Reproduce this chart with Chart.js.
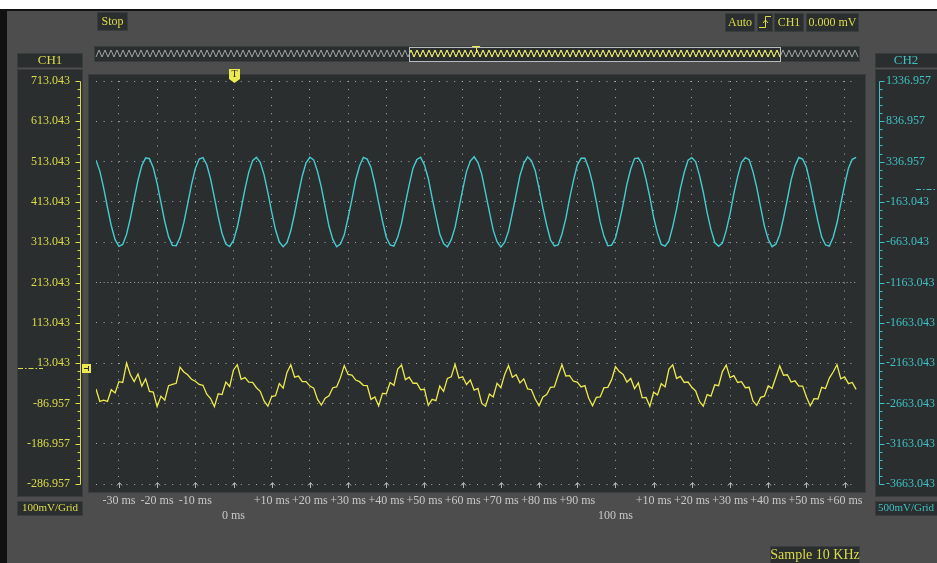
<!DOCTYPE html>
<html>
<head>
<meta charset="utf-8">
<script src="https://cdn.jsdelivr.net/npm/chart.js@4.4.1/dist/chart.umd.min.js"></script>
<style>
  html, body { margin: 0; padding: 0; background: #4d4d4d; }
  canvas { display: block; }
</style>
</head>
<body>
<canvas id="scope" width="937" height="563"></canvas>
<script>
// ---- captured buffer (10 kHz acquisition, shown decimated to 1 ms) ----
const sampleTimesMs = [
  -36,-35,-34,-33,-32,-31,-30,-29,-28,-27,-26,-25,-24,-23,-22,-21,-20,-19,-18,-17,
  -16,-15,-14,-13,-12,-11,-10,-9,-8,-7,-6,-5,-4,-3,-2,-1,0,1,2,3,
  4,5,6,7,8,9,10,11,12,13,14,15,16,17,18,19,20,21,22,23,
  24,25,26,27,28,29,30,31,32,33,34,35,36,37,38,39,40,41,42,43,
  44,45,46,47,48,49,50,51,52,53,54,55,56,57,58,59,60,61,62,63,
  64,65,66,67,68,69,70,71,72,73,74,75,76,77,78,79,80,81,82,83,
  84,85,86,87,88,89,90,91,92,93,94,95,96,97,98,99,100,101,102,103,
  104,105,106,107,108,109,110,111,112,113,114,115,116,117,118,119,120,121,122,123,
  124,125,126,127,128,129,130,131,132,133,134,135,136,137,138,139,140,141,142,143,
  144,145,146,147,148,149,150,151,152,153,154,155,156,157,158,159,160,161,162,163
];

// CH1 (yellow), mV
const ch1TraceMv = [
  -51,-82,-79,-82,-53,-61,-33,-35,13,-16,
  -33,-14,-44,-26,-57,-59,-95,-69,-79,-43,
  -40,-37,3,-9,-16,-27,-32,-40,-42,-64,
  -75,-95,-63,-65,-34,-45,-4,9,-27,-23,
  -34,-35,-48,-57,-81,-94,-70,-68,-38,-49,
  -10,9,-22,-19,-33,-33,-44,-49,-77,-91,
  -74,-68,-48,-46,-23,7,-15,-17,-29,-33,
  -42,-43,-77,-71,-93,-62,-63,-35,-42,-2,
  8,-28,-22,-37,-37,-53,-52,-92,-77,-80,
  -44,-57,-25,-21,10,-24,-21,-40,-29,-54,
  -50,-87,-94,-64,-71,-37,-48,-15,7,-22,
  -16,-36,-26,-51,-53,-76,-93,-71,-65,-47,
  -46,-17,9,-19,-18,-32,-34,-46,-43,-74,
  -93,-72,-71,-48,-47,-28,4,-8,-15,-34,
  -25,-50,-36,-73,-72,-94,-59,-66,-38,-46,
  -2,9,-25,-20,-35,-34,-47,-56,-82,-94,
  -65,-69,-41,-43,-8,8,-23,-18,-35,-33,
  -48,-47,-81,-92,-72,-69,-43,-50,-22,6,
  -17,-16,-34,-31,-44,-44,-71,-93,-75,-76,
  -47,-50,-24,-9,9,-26,-21,-38,-35,-52
];

// CH2 (cyan), mV
const ch2TraceMv = [
  354,219,11,-231,-459,-631,-714,-691,-566,-366,
  -126,107,288,383,373,261,68,-170,-406,-596,
  -702,-706,-606,-421,-187,52,250,369,386,298,
  122,-109,-349,-555,-685,-716,-640,-474,-248,-5,
  207,348,391,329,173,-48,-291,-509,-661,-718,
  -669,-522,-307,-65,159,321,391,
  358,214,18,-225,-466,-628,-720,-686,-571,-360,
  -131,112,283,389,368,265,62,-176,-400,-601,
  -697,-712,-600,-426,-181,47,256,364,392,293,
  128,-114,-343,-561,-680,-722,-634,-479,-242,-10,
  213,343,397,324,179,-53,-286,-514,-656,-724,
  -663,-527,-301,-70,165,316,396,
  349,224,6,-236,-453,-636,-709,-697,-561,-371,
  -120,102,294,378,379,256,74,-165,-411,-590,
  -708,-700,-611,-416,-193,58,245,375,381,304,
  116,-104,-355,-549,-691,-711,-646,-469,-253,1,
  201,354,386,335,167,-43,-297,-504,-667,-713,
  -675,-517,-312,-59,153,327,386,
  360,213,15,-227,-463,-626,-718,-688,-570,-362,
  -130,111,284,388,369,266,64,-174,-402,-600,
  -698,-711,-602,-425,-183,48,255,365,390
];

// ---- axes ----
const viewStartMs = -36;
const viewEndMs = 163.5;
const timeTicksMs = [-30,-20,-10,0,10,20,30,40,50,60,70,80,90,100,110,120,130,140,150,160];
const timeTickLabels = [
  '-30 ms','-20 ms','-10 ms',['', '0 ms'],'+10 ms','+20 ms','+30 ms','+40 ms','+50 ms','+60 ms',
  '+70 ms','+80 ms','+90 ms',['', '100 ms'],'+10 ms','+20 ms','+30 ms','+40 ms','+50 ms','+60 ms'
];
const ch1TickMv = [-286.957,-186.957,-86.957,13.043,113.043,213.043,313.043,413.043,513.043,613.043,713.043];
const ch2TickMv = [-3663.043,-3163.043,-2663.043,-2163.043,-1663.043,-1163.043,-663.043,-163.043,336.957,836.957,1336.957];
const triggerTimeMs = 0;
const ch1GroundMv = 0;
const ch2GroundMv = 0;

// ---- look ----
const FONT = "'Liberation Serif','Times New Roman',serif";
const PAGE_BG = '#4d4d4d';
const PANEL = '#2b2e2f';
const PANEL_EDGE = '#3a3d3e';
const YELLOW = '#ecea4e';
const YELLOW_TEXT = '#dcdc48';
const CYAN = '#44cdd0';
const CYAN_TEXT = '#3fc0c4';
const GRID = 'rgba(190,192,192,0.85)';
const TICK_TEXT = '#c8c8c8';

Chart.defaults.font.family = FONT;
Chart.defaults.font.size = 12;

function panel(ctx, x, y, w, h) {
  ctx.fillStyle = PANEL;
  ctx.fillRect(x, y, w, h);
  ctx.strokeStyle = PANEL_EDGE;
  ctx.lineWidth = 1;
  ctx.strokeRect(x + 0.5, y + 0.5, w - 1, h - 1);
}

function text(ctx, str, cx, cy, color, size, align) {
  ctx.fillStyle = color;
  ctx.font = size + 'px ' + FONT;
  ctx.textAlign = align || 'center';
  ctx.textBaseline = 'middle';
  ctx.fillText(str, cx, cy);
}

function zigzag(ctx, x0, x1, yTop, yBot, halfPeriod, color) {
  ctx.beginPath();
  let k = 0;
  for (let px = x0; px <= x1; px += halfPeriod, k++) {
    const py = (k % 2) ? yTop : yBot;
    if (k === 0) ctx.moveTo(px, py); else ctx.lineTo(px, py);
  }
  ctx.strokeStyle = color;
  ctx.lineWidth = 1;
  ctx.stroke();
}

function dashDot(ctx, x0, x1, y, color) {
  ctx.save();
  ctx.strokeStyle = color;
  ctx.lineWidth = 1;
  ctx.setLineDash([5, 2, 1.5, 2]);
  ctx.beginPath();
  ctx.moveTo(x0, Math.round(y) + 0.5);
  ctx.lineTo(x1, Math.round(y) + 0.5);
  ctx.stroke();
  ctx.restore();
}

// frame, panels and status boxes behind the plot; axis rulers and markers on top
const scopeFrame = {
  id: 'scopeFrame',
  beforeDraw(chart) {
    const ctx = chart.ctx;
    const a = chart.chartArea;
    const W = chart.width, H = chart.height;
    ctx.save();
    ctx.fillStyle = PAGE_BG;
    ctx.fillRect(0, 0, W, H);
    ctx.fillStyle = '#ffffff';
    ctx.fillRect(0, 0, W, 9);
    ctx.fillStyle = '#111111';
    ctx.fillRect(0, 9, W, 2);
    ctx.fillRect(0, 9, 7, H - 9);

    // status row
    panel(ctx, 97, 12, 31, 19);
    text(ctx, 'Stop', 112.5, 22, YELLOW_TEXT, 12);
    panel(ctx, 725, 13, 30, 19);
    text(ctx, 'Auto', 740, 23, YELLOW_TEXT, 12);
    panel(ctx, 757, 13, 16, 19);
    ctx.strokeStyle = YELLOW_TEXT;
    ctx.lineWidth = 1;
    ctx.beginPath();
    ctx.moveTo(759, 27.5); ctx.lineTo(765.5, 27.5); ctx.lineTo(765.5, 16.5); ctx.lineTo(771, 16.5);
    ctx.moveTo(763, 23); ctx.lineTo(765.5, 20); ctx.lineTo(768, 23);
    ctx.stroke();
    panel(ctx, 774, 13, 30, 19);
    text(ctx, 'CH1', 789, 23, YELLOW_TEXT, 12);
    panel(ctx, 806, 13, 53, 19);
    text(ctx, '0.000 mV', 832.5, 23, YELLOW_TEXT, 12);

    // buffer overview strip with the visible window
    const ovL = 94, ovR = 860, winL = 409, winR = 781;
    panel(ctx, ovL, 46, ovR - ovL, 16);
    zigzag(ctx, 96, 858, 50, 57, 3, '#9fa6a6');
    ctx.save();
    ctx.beginPath();
    ctx.rect(winL, 46, winR - winL, 16);
    ctx.clip();
    zigzag(ctx, 96, 858, 50, 57, 3, YELLOW);
    ctx.restore();
    ctx.strokeStyle = '#b9bcbc';
    ctx.strokeRect(winL + 0.5, 47.5, winR - winL - 1, 14);
    const trigOv = winL + (triggerTimeMs - viewStartMs) / (viewEndMs - viewStartMs) * (winR - winL);
    ctx.strokeStyle = YELLOW;
    ctx.beginPath();
    ctx.moveTo(trigOv - 4, 46.5); ctx.lineTo(trigOv + 4, 46.5);
    ctx.moveTo(Math.round(trigOv) + 0.5, 46); ctx.lineTo(Math.round(trigOv) + 0.5, 53);
    ctx.stroke();

    // channel side panels
    panel(ctx, 17, 53, 66, 15);
    text(ctx, 'CH1', 50, 61, YELLOW_TEXT, 13);
    panel(ctx, 17, 69, 66, 428);
    panel(ctx, 17, 501, 66, 15);
    text(ctx, '100mV/Grid', 50, 508.5, YELLOW_TEXT, 11);

    panel(ctx, 875, 53, 63, 15);
    text(ctx, 'CH2', 906, 61, CYAN_TEXT, 13);
    panel(ctx, 875, 69, 63, 428);
    panel(ctx, 875, 501, 63, 15);
    text(ctx, '500mV/Grid', 906, 508.5, CYAN_TEXT, 11);

    // screen
    panel(ctx, a.left - 8, a.top - 7, a.right - a.left + 16, a.bottom - a.top + 16);

    // acquisition info
    panel(ctx, 770, 546, 90, 18);
    text(ctx, 'Sample 10 KHz', 815, 555.5, YELLOW_TEXT, 14);
    ctx.restore();
  },
  afterDraw(chart) {
    const ctx = chart.ctx;
    const a = chart.chartArea;
    const xs = chart.scales.x, ys = chart.scales.y, ys2 = chart.scales.y2;
    ctx.save();

    // little arrows under the time ticks
    ctx.strokeStyle = '#b4b6b6';
    ctx.lineWidth = 1;
    ctx.beginPath();
    timeTicksMs.forEach(t => {
      const px = Math.round(xs.getPixelForValue(t)) + 0.5;
      ctx.moveTo(px, a.bottom - 1); ctx.lineTo(px, a.bottom + 4);
      ctx.moveTo(px - 2.5, a.bottom + 1.5); ctx.lineTo(px, a.bottom - 1.5); ctx.lineTo(px + 2.5, a.bottom + 1.5);
    });
    ctx.stroke();

    // CH1 ruler (left)
    const rulerL = 80.5;
    ctx.strokeStyle = YELLOW_TEXT;
    ctx.beginPath();
    ctx.moveTo(rulerL, Math.round(ys.getPixelForValue(ch1TickMv[0])) + 0.5);
    ctx.lineTo(rulerL, Math.round(ys.getPixelForValue(ch1TickMv[ch1TickMv.length - 1])) + 0.5);
    ch1TickMv.forEach((v, i) => {
      const py = Math.round(ys.getPixelForValue(v)) + 0.5;
      ctx.moveTo(rulerL - 5, py); ctx.lineTo(rulerL, py);
      if (i < ch1TickMv.length - 1) {
        const step = (ch1TickMv[i + 1] - v) / 5;
        for (let k = 1; k < 5; k++) {
          const my = Math.round(ys.getPixelForValue(v + step * k)) + 0.5;
          ctx.moveTo(rulerL - 3, my); ctx.lineTo(rulerL, my);
        }
      }
    });
    ctx.stroke();

    // CH2 ruler (right)
    const rulerR = 879.5;
    ctx.strokeStyle = CYAN_TEXT;
    ctx.beginPath();
    ctx.moveTo(rulerR, Math.round(ys2.getPixelForValue(ch2TickMv[0])) + 0.5);
    ctx.lineTo(rulerR, Math.round(ys2.getPixelForValue(ch2TickMv[ch2TickMv.length - 1])) + 0.5);
    ch2TickMv.forEach((v, i) => {
      const py = Math.round(ys2.getPixelForValue(v)) + 0.5;
      ctx.moveTo(rulerR, py); ctx.lineTo(rulerR + 5, py);
      if (i < ch2TickMv.length - 1) {
        const step = (ch2TickMv[i + 1] - v) / 5;
        for (let k = 1; k < 5; k++) {
          const my = Math.round(ys2.getPixelForValue(v + step * k)) + 0.5;
          ctx.moveTo(rulerR, my); ctx.lineTo(rulerR + 3, my);
        }
      }
    });
    ctx.stroke();

    // ground level markers
    const g1 = ys.getPixelForValue(ch1GroundMv);
    dashDot(ctx, 18, 43, g1, YELLOW_TEXT);
    ctx.fillStyle = YELLOW;
    ctx.fillRect(82, Math.round(g1) - 4, 9, 9);
    ctx.strokeStyle = '#2b2e2f';
    ctx.beginPath();
    ctx.moveTo(84, Math.round(g1) + 0.5); ctx.lineTo(89, Math.round(g1) + 0.5);
    ctx.moveTo(88.5, Math.round(g1) - 2); ctx.lineTo(88.5, Math.round(g1) + 3);
    ctx.stroke();

    const g2 = ys2.getPixelForValue(ch2GroundMv);
    dashDot(ctx, 916, 937, g2, CYAN_TEXT);

    // trigger position flag
    const tx = Math.round(xs.getPixelForValue(triggerTimeMs)) + 0.5;
    ctx.fillStyle = YELLOW;
    ctx.beginPath();
    ctx.moveTo(tx - 5.5, 69); ctx.lineTo(tx + 5.5, 69); ctx.lineTo(tx + 5.5, 79);
    ctx.lineTo(tx, 83); ctx.lineTo(tx - 5.5, 79); ctx.closePath();
    ctx.fill();
    text(ctx, 'T', tx, 74.5, '#2b2e2f', 10);
    ctx.restore();
  }
};

const toPoints = (values) => sampleTimesMs.map((t, i) => ({ x: t, y: values[i] }));

new Chart(document.getElementById('scope'), {
  type: 'line',
  data: {
    datasets: [
      { label: 'CH2', yAxisID: 'y2', data: toPoints(ch2TraceMv), borderColor: CYAN, borderWidth: 1.4, pointRadius: 0, tension: 0 },
      { label: 'CH1', yAxisID: 'y', data: toPoints(ch1TraceMv), borderColor: YELLOW, borderWidth: 1.3, pointRadius: 0, tension: 0 }
    ]
  },
  options: {
    responsive: false,
    animation: false,
    devicePixelRatio: 1,
    layout: { padding: { top: 81, left: 0, right: 0, bottom: 0 } },
    plugins: { legend: { display: false }, tooltip: { enabled: false } },
    scales: {
      x: {
        type: 'linear',
        position: 'bottom',
        min: viewStartMs,
        max: viewEndMs,
        afterBuildTicks: s => { s.ticks = timeTicksMs.map(v => ({ value: v })); },
        afterFit: s => { s.height = 79; s.paddingLeft = 0; s.paddingRight = 0; },
        ticks: {
          autoSkip: false, maxRotation: 0, minRotation: 0, padding: 10,
          color: TICK_TEXT, font: { size: 12 },
          callback: (v, i) => timeTickLabels[i]
        },
        grid: { color: GRID, lineWidth: 1, drawTicks: false },
        border: { display: false, dash: [1, 7.06] }
      },
      y: {
        position: 'left',
        min: ch1TickMv[0],
        max: ch1TickMv[ch1TickMv.length - 1],
        afterBuildTicks: s => { s.ticks = ch1TickMv.map(v => ({ value: v })); },
        afterFit: s => { s.width = 96; s.paddingTop = 0; s.paddingBottom = 0; },
        ticks: { padding: 26, color: YELLOW_TEXT, font: { size: 12 }, callback: v => v.toFixed(3) },
        grid: { color: GRID, lineWidth: 1, drawTicks: false },
        border: { display: false, dash: ctx => (ctx.index === 5 ? [1, 2.81] : [1, 6.62]) }
      },
      y2: {
        position: 'right',
        min: ch2TickMv[0],
        max: ch2TickMv[ch2TickMv.length - 1],
        afterBuildTicks: s => { s.ticks = ch2TickMv.map(v => ({ value: v })); },
        afterFit: s => { s.width = 79; s.paddingTop = 0; s.paddingBottom = 0; },
        ticks: { padding: 28, color: CYAN_TEXT, font: { size: 12 }, callback: v => v.toFixed(3) },
        grid: { display: false, drawTicks: false },
        border: { display: false }
      }
    }
  },
  plugins: [scopeFrame]
});
</script>
</body>
</html>
